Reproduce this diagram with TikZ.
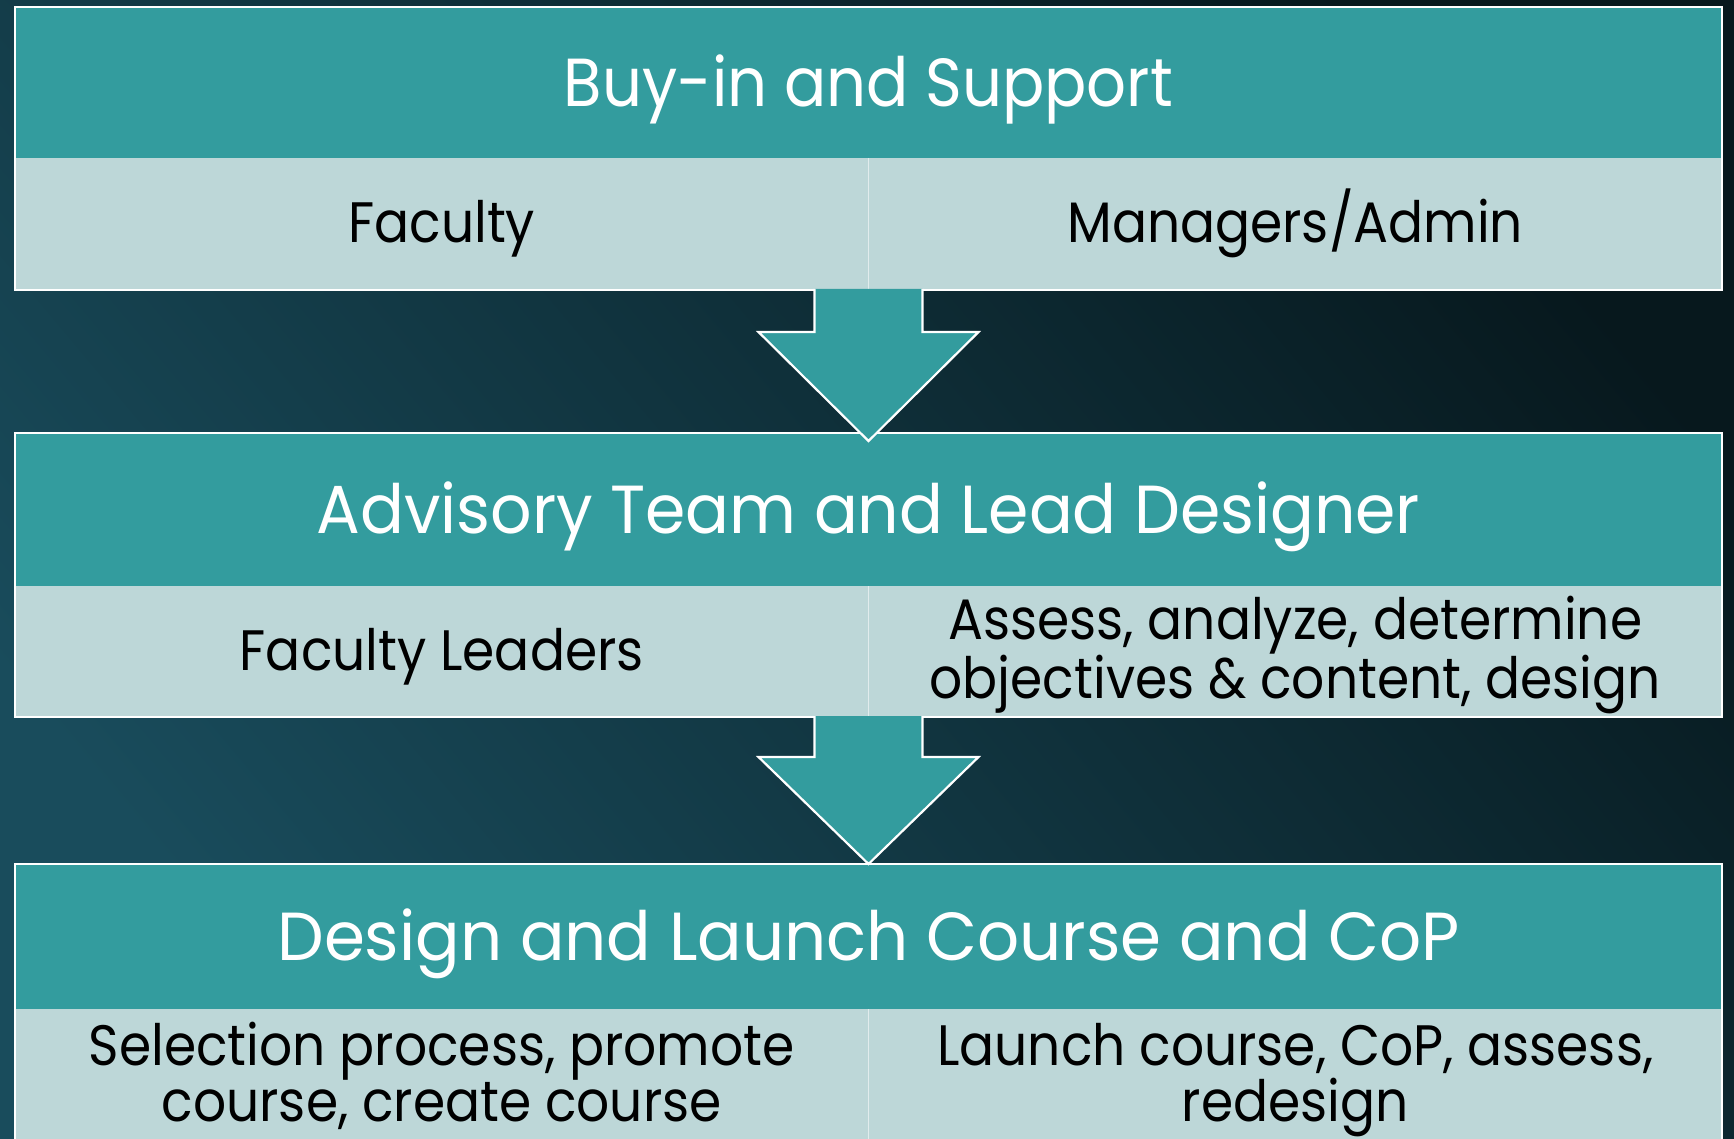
\documentclass[tikz,border=0pt]{standalone}
\usepackage{fontspec}
\setmainfont{Poppins}
\usetikzlibrary{calc}

\definecolor{bandteal}{RGB}{51,156,158}
\definecolor{cellpale}{RGB}{189,215,216}
\definecolor{bglight}{RGB}{25,76,92}
\definecolor{bgmid}{RGB}{16,50,62}
\definecolor{bgdark}{RGB}{7,24,29}

\tikzset{
  band/.style={fill=bandteal, minimum width=1707pt, inner sep=0pt, outer sep=0pt, anchor=north west},
  cellbox/.style={fill=cellpale, minimum width=853.5pt, inner sep=0pt, outer sep=0pt, anchor=north west},
  bandtext/.style={text=white, font=\fontsize{68}{70}\selectfont, text height=47.5pt, text depth=0pt, inner sep=0pt},
  celltext/.style={text=black, font=\fontsize{57}{56}\selectfont, align=center, inner sep=0pt, xscale=0.91},
  oneline/.style={text height=40pt, text depth=0pt},
  twoline/.style={text height=96pt, text depth=0pt},
  frame/.style={draw=white, line width=2pt},
  divider/.style={draw=white, draw opacity=0.55, line width=1.5pt},
  flowarrow/.style={fill=bandteal, draw=white, line width=2.2pt, line join=miter},
}

\begin{document}
\begin{tikzpicture}[x=1pt, y=-1pt]
\useasboundingbox (0,0) rectangle (1734,1139);
\clip (0,0) rectangle (1734,1139);

% backdrop: lighter towards the lower left, darkest at the upper right
\shade[shading=axis, bottom color=bglight, middle color=bgmid, top color=bgdark, shading angle=-50]
  (0,0) rectangle (1734,1139);

% ---- stage 1 ----
\node[band, minimum height=151pt] (h1) at (15,7) {};
\node[cellbox, minimum height=132pt] (c1L) at (15,158) {};
\node[cellbox, minimum height=132pt] (c1R) at (868.5,158) {};
\draw[divider] (c1L.north east) -- (c1L.south east);
\draw[frame] (h1.north west) rectangle (c1R.south east);
\node[bandtext, xscale=0.92] (t1) at (h1.center) {Buy-in and Support};
\node[celltext, oneline] (t1L) at ($(c1L.center)+(0,-1)$) {Faculty};
\node[celltext, oneline] (t1R) at ($(c1R.center)+(0,-1)$) {Managers/Admin};

% ---- stage 2 ----
\node[band, minimum height=153pt] (h2) at (15,433) {};
\node[cellbox, minimum height=131pt] (c2L) at (15,586) {};
\node[cellbox, minimum height=131pt] (c2R) at (868.5,586) {};
\draw[divider] (c2L.north east) -- (c2L.south east);
\draw[frame] (h2.north west) rectangle (c2R.south east);
\node[bandtext, xscale=0.955] (t2) at (h2.center) {Advisory Team and Lead Designer};
\node[celltext, oneline] (t2L) at ($(c2L.center)+(0,-1)$) {Faculty Leaders};
\node[celltext, twoline] (t2R) at ($(c2R.center)+(0,-1)$) {Assess, analyze, determine\\objectives \& content, design};

% ---- stage 3 ----
\node[band, minimum height=145pt] (h3) at (15,864) {};
\node[cellbox, minimum height=150pt] (c3L) at (15,1009) {};
\node[cellbox, minimum height=150pt] (c3R) at (868.5,1009) {};
\draw[divider] (c3L.north east) -- (c3L.south east);
\draw[frame] (h3.north west) rectangle (c3R.south east);
\node[bandtext, xscale=0.97] (t3) at (h3.center) {Design and Launch Course and CoP};
\node[celltext, twoline] (t3L) at ($(c3L.north)+(0,64)$) {Selection process, promote\\course, create course};
\node[celltext, twoline] (t3R) at ($(c3R.north)+(0,64)$) {Launch course, CoP, assess,\\redesign};

% ---- block arrows between the stages ----
\coordinate (a1top) at (c1L.south east);
\coordinate (a1tip) at ($(h2.north)+(0,8)$);
\filldraw[flowarrow] ($(a1top)+(-54,-1)$) -- ($(a1tip)+(-54,-109)$) -- ($(a1tip)+(-110,-109)$)
  -- (a1tip) -- ($(a1tip)+(110,-109)$) -- ($(a1tip)+(54,-109)$) -- ($(a1top)+(54,-1)$);

\coordinate (a2top) at (c2L.south east);
\coordinate (a2tip) at ($(h3.north)+(0,0)$);
\filldraw[flowarrow] ($(a2top)+(-54,-1)$) -- ($(a2tip)+(-54,-107)$) -- ($(a2tip)+(-110,-107)$)
  -- (a2tip) -- ($(a2tip)+(110,-107)$) -- ($(a2tip)+(54,-107)$) -- ($(a2top)+(54,-1)$);
\end{tikzpicture}
\end{document}
